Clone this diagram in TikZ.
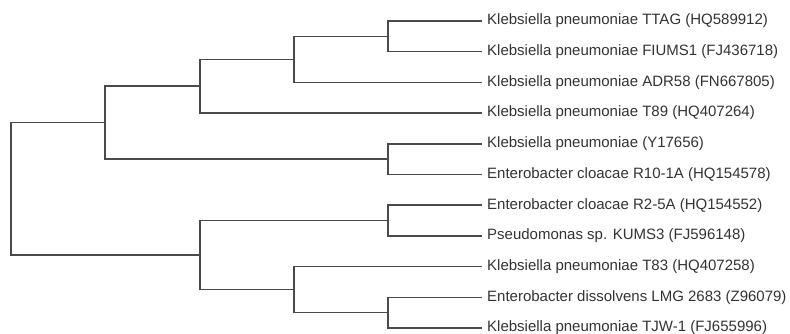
\documentclass[tikz,border=0pt]{standalone}
\usepackage{fontspec}
\setmainfont{Liberation Sans}
\definecolor{linec}{HTML}{4A4A4A}
\definecolor{textc}{HTML}{333333}
\begin{document}
\begin{tikzpicture}[x=1pt,y=-1pt,
  leaf/.style={anchor=west,inner xsep=6pt,inner ysep=0pt,font=\fontsize{15}{17}\selectfont,text=textc},
  branch/.style={draw=linec,line width=1.6pt,line cap=rect}]
\useasboundingbox (0,0) rectangle (790,334);
% leaves
\node[leaf] (l1) at (481,21.0) {Klebsiella pneumoniae TTAG (HQ589912)};
\node[leaf] (l2) at (481,51.7) {Klebsiella pneumoniae FIUMS1 (FJ436718)};
\node[leaf] (l3) at (481,82.4) {Klebsiella pneumoniae ADR58 (FN667805)};
\node[leaf] (l4) at (481,113.1) {Klebsiella pneumoniae T89 (HQ407264)};
\node[leaf] (l5) at (481,143.8) {Klebsiella pneumoniae (Y17656)};
\node[leaf] (l6) at (481,174.5) {Enterobacter cloacae R10-1A (HQ154578)};
\node[leaf] (l7) at (481,205.2) {Enterobacter cloacae R2-5A (HQ154552)};
\node[leaf] (l8) at (481,235.9) {Pseudomonas sp. KUMS3 (FJ596148)};
\node[leaf] (l9) at (481,266.6) {Klebsiella pneumoniae T83 (HQ407258)};
\node[leaf] (l10) at (481,297.3) {Enterobacter dissolvens LMG 2683 (Z96079)};
\node[leaf] (l11) at (481,328.0) {Klebsiella pneumoniae TJW-1 (FJ655996)};
% internal nodes
\coordinate (D) at (388,36.35);
\coordinate (C) at (294,59.4);
\coordinate (B) at (200,86.25);
\coordinate (E) at (388,159.15);
\coordinate (A) at (105,122.7);
\coordinate (G) at (388,220.55);
\coordinate (I) at (388,312.65);
\coordinate (H) at (294,289.6);
\coordinate (F) at (200,255.1);
\coordinate (R) at (11,188.9);
% edges
\draw[branch] (D) |- (l1.west);
\draw[branch] (D) |- (l2.west);
\draw[branch] (C) |- (D);
\draw[branch] (C) |- (l3.west);
\draw[branch] (B) |- (C);
\draw[branch] (B) |- (l4.west);
\draw[branch] (E) |- (l5.west);
\draw[branch] (E) |- (l6.west);
\draw[branch] (A) |- (B);
\draw[branch] (A) |- (E);
\draw[branch] (G) |- (l7.west);
\draw[branch] (G) |- (l8.west);
\draw[branch] (I) |- (l10.west);
\draw[branch] (I) |- (l11.west);
\draw[branch] (H) |- (l9.west);
\draw[branch] (H) |- (I);
\draw[branch] (F) |- (G);
\draw[branch] (F) |- (H);
\draw[branch] (R) |- (A);
\draw[branch] (R) |- (F);
\end{tikzpicture}
\end{document}
